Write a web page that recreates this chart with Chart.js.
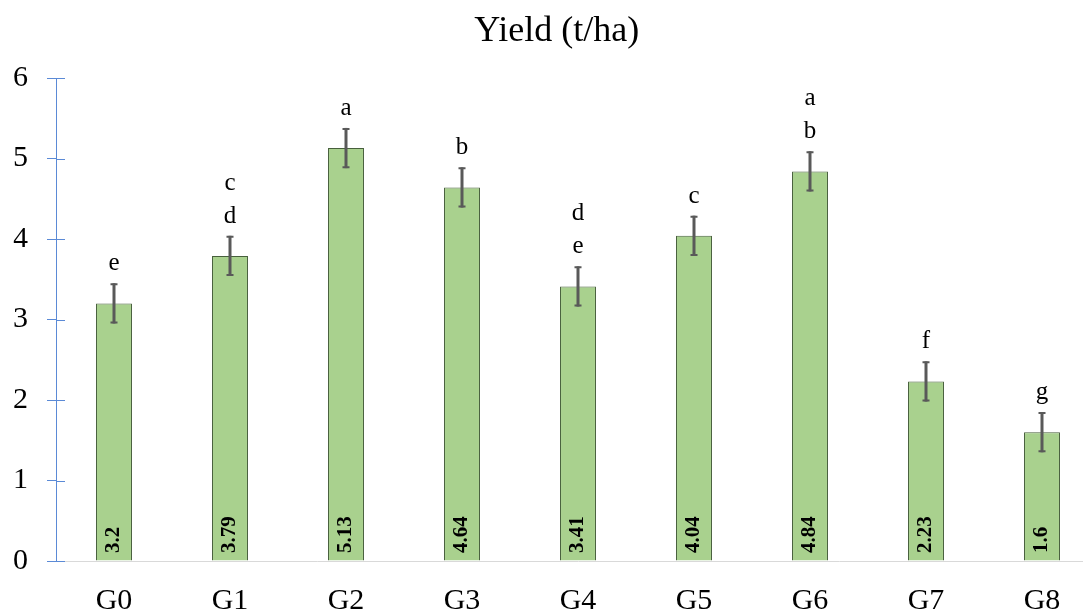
<!DOCTYPE html>
<html>
<head>
<meta charset="utf-8">
<title>Yield (t/ha)</title>
<script src="https://cdn.jsdelivr.net/npm/chart.js@4.4.1/dist/chart.umd.min.js"></script>
<style>
  html, body { margin: 0; padding: 0; background: #ffffff; overflow: hidden; }
  #wrap { width: 1100px; height: 620px; }
</style>
</head>
<body>
<div id="wrap"><canvas id="yieldChart" width="1100" height="620"></canvas></div>
<script>
// Genotypes
const genotypes = ['G0', 'G1', 'G2', 'G3', 'G4', 'G5', 'G6', 'G7', 'G8'];
// Mean grain yield, t/ha
const yieldValues = [3.2, 3.79, 5.13, 4.64, 3.41, 4.04, 4.84, 2.23, 1.6];
// Standard error of each mean, t/ha
const yieldError = [0.25, 0.25, 0.25, 0.25, 0.25, 0.25, 0.25, 0.25, 0.25];
// Mean-separation groups (top line first)
const groupLetters = [['e'], ['c', 'd'], ['a'], ['b'], ['d', 'e'], ['c'], ['a', 'b'], ['f'], ['g']];
// Y axis range and step
const yTicks = [0, 1, 2, 3, 4, 5, 6];

const SERIF = '"Liberation Serif", "Times New Roman", serif';
const AXIS_BLUE = '#5b8ad6';

// Error bars, rotated value labels, group letters and the inner half of the y ticks
const barDecorations = {
  id: 'barDecorations',
  afterDatasetsDraw(chart) {
    const { ctx, scales: { x, y } } = chart;
    const meta = chart.getDatasetMeta(0);
    ctx.save();
    meta.data.forEach((bar, i) => {
      const cx = Math.round(bar.x);
      const hi = y.getPixelForValue(yieldValues[i] + yieldError[i]);
      const lo = y.getPixelForValue(yieldValues[i] - yieldError[i]);

      // error bar
      ctx.strokeStyle = '#595959';
      ctx.lineWidth = 3;
      ctx.beginPath();
      ctx.moveTo(cx, hi);
      ctx.lineTo(cx, lo);
      ctx.stroke();
      ctx.lineWidth = 2;
      ctx.beginPath();
      ctx.moveTo(cx - 3.5, hi + 1);
      ctx.lineTo(cx + 3.5, hi + 1);
      ctx.moveTo(cx - 3.5, lo - 1);
      ctx.lineTo(cx + 3.5, lo - 1);
      ctx.stroke();

      // value label inside the bar, reading upward
      ctx.save();
      ctx.translate(cx, y.getPixelForValue(0) - 8);
      ctx.rotate(-Math.PI / 2);
      ctx.font = 'bold 21px ' + SERIF;
      ctx.fillStyle = '#000000';
      ctx.textAlign = 'left';
      ctx.textBaseline = 'middle';
      ctx.fillText(String(yieldValues[i]), 0, 0);
      ctx.restore();

      // group letters stacked above the error bar
      const letters = groupLetters[i];
      ctx.font = '25px ' + SERIF;
      ctx.fillStyle = '#000000';
      ctx.textAlign = 'center';
      ctx.textBaseline = 'alphabetic';
      letters.forEach((ch, k) => {
        ctx.fillText(ch, cx, hi - 13 - (letters.length - 1 - k) * 33);
      });
    });

    // tick marks cross the y axis
    ctx.strokeStyle = AXIS_BLUE;
    ctx.lineWidth = 1;
    ctx.beginPath();
    y.ticks.forEach(t => {
      const py = Math.round(y.getPixelForValue(t.value)) + 0.5;
      ctx.moveTo(x.left, py);
      ctx.lineTo(x.left + 9, py);
    });
    ctx.stroke();
    ctx.restore();
  }
};

new Chart(document.getElementById('yieldChart'), {
  type: 'bar',
  data: {
    labels: genotypes,
    datasets: [{
      label: 'Yield (t/ha)',
      data: yieldValues,
      backgroundColor: '#a9d18e',
      borderColor: '#475f3c',
      borderWidth: 1,
      borderSkipped: 'start',
      barPercentage: 0.31,
      categoryPercentage: 1.0
    }]
  },
  options: {
    responsive: false,
    animation: false,
    devicePixelRatio: 1,
    layout: { padding: { left: 13.5, right: 0, top: 0, bottom: 1 } },
    plugins: {
      legend: { display: false },
      tooltip: { enabled: false },
      title: {
        display: true,
        text: 'Yield (t/ha)',
        color: '#000000',
        font: { family: SERIF, size: 36, weight: 'normal', lineHeight: 1.2 },
        padding: { top: 10, bottom: 24.8 }
      }
    },
    scales: {
      x: {
        grid: { display: false, drawTicks: false },
        border: { display: true, color: '#d9d9d9', width: 1 },
        ticks: {
          color: '#000000',
          font: { family: SERIF, size: 30, lineHeight: 1.2 },
          padding: 22
        },
        afterFit(scale) { scale.height = 58; }
      },
      y: {
        min: yTicks[0],
        max: yTicks[yTicks.length - 1],
        afterBuildTicks(scale) {
          scale.ticks = yTicks.map(v => ({ value: v }));
        },
        grid: {
          display: true,
          drawOnChartArea: false,
          drawTicks: true,
          tickLength: 9,
          color: AXIS_BLUE,
          lineWidth: 1
        },
        border: { display: true, color: AXIS_BLUE, width: 1 },
        ticks: {
          color: '#000000',
          font: { family: SERIF, size: 30, lineHeight: 1.2 },
          padding: 19
        },
        afterFit(scale) { scale.width = 42.5; }
      }
    }
  },
  plugins: [barDecorations]
});
</script>
</body>
</html>
